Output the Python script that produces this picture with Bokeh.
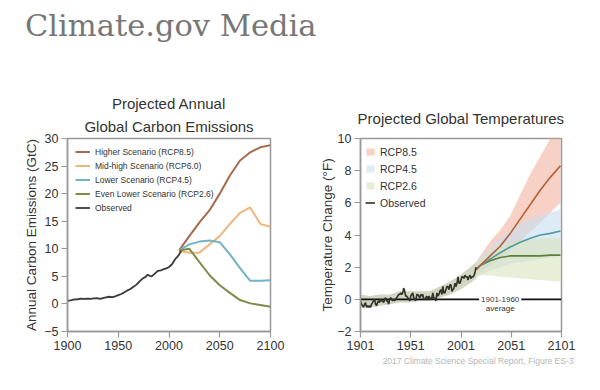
from bokeh.plotting import figure
from bokeh.models import (Legend, LegendItem, Label, Title, Div, CustomJSTickFormatter,
                          FixedTicker, Range1d)
from bokeh.layouts import column, row
from bokeh.embed import file_html
from bokeh.resources import INLINE

# ---------------- data: left chart (emissions, GtC) ----------------
obs_em_years = [1900, 1903, 1906, 1910, 1913, 1916, 1920, 1923, 1926, 1929, 1932, 1935, 1938,
                1941, 1944, 1946, 1950, 1953, 1956, 1959, 1962, 1965, 1968, 1971, 1974, 1977,
                1979, 1981, 1983, 1986, 1989, 1992, 1995, 1998, 2000, 2003, 2006, 2009, 2012]
obs_em_vals = [0.55, 0.65, 0.8, 0.85, 0.95, 0.9, 0.95, 0.9, 1.0, 1.05, 0.9, 1.05, 1.2,
               1.3, 1.25, 1.3, 1.6, 1.8, 2.1, 2.45, 2.7, 3.1, 3.5, 4.1, 4.6, 4.9,
               5.3, 5.1, 5.0, 5.5, 6.0, 6.1, 6.3, 6.5, 6.7, 7.2, 8.1, 8.7, 9.6]
scen_years = [2010, 2020, 2030, 2040, 2050, 2060, 2070, 2080, 2090, 2100]
em_rcp85 = [9.7, 12.3, 14.8, 17.0, 20.0, 23.3, 26.0, 27.5, 28.4, 28.8]
em_rcp60 = [9.6, 9.3, 9.3, 10.8, 12.3, 14.5, 16.5, 17.5, 14.5, 14.0]
em_rcp45 = [9.7, 10.8, 11.3, 11.5, 11.2, 9.0, 6.5, 4.2, 4.2, 4.3]
em_rcp26 = [9.7, 10.0, 7.6, 5.2, 3.4, 2.0, 0.7, 0.1, -0.2, -0.5]
em_labels = ["Higher Scenario (RCP8.5)", "Mid-high Scenario (RCP6.0)",
             "Lower Scenario (RCP4.5)", "Even Lower Scenario (RCP2.6)", "Observed"]

# ---------------- data: right chart (temperature change, F) ----------------
obs_t_years = list(range(1901, 2017))
obs_t_vals = [-0.1, -0.3, -0.4, -0.5, -0.3, -0.2, -0.5, -0.4, -0.5, -0.4,
              -0.5, -0.3, -0.2, -0.1, 0.0, -0.3, -0.4, -0.2, -0.1, -0.2,
              0.0, -0.1, -0.1, -0.2, 0.0, 0.1, -0.1, -0.1, -0.3, 0.0,
              0.1, 0.0, -0.1, 0.0, -0.1, 0.0, 0.1, 0.2, 0.3, 0.3,
              0.4, 0.3, 0.4, 0.7, 0.5, 0.2, 0.2, 0.1, 0.0, -0.1,
              0.2, 0.3, 0.4, 0.1, 0.0, -0.1, 0.3, 0.3, 0.2, 0.1,
              0.3, 0.2, 0.3, 0.0, 0.0, 0.1, 0.2, 0.0, 0.2, 0.1,
              0.0, 0.1, 0.4, 0.0, 0.1, -0.1, 0.4, 0.2, 0.3, 0.5,
              0.6, 0.3, 0.8, 0.4, 0.4, 0.6, 0.8, 0.8, 0.6, 0.9,
              0.9, 0.5, 0.6, 0.7, 1.0, 0.8, 1.0, 1.4, 1.0, 1.0,
              1.2, 1.4, 1.4, 1.3, 1.5, 1.4, 1.4, 1.2, 1.4, 1.5,
              1.3, 1.4, 1.4, 1.5, 1.7, 2.0]
hist_years = [1901, 1910, 1920, 1930, 1940, 1950, 1960, 1970, 1980, 1990, 2000, 2010, 2016]
hist_hi = [0.3, 0.2, 0.3, 0.3, 0.5, 0.5, 0.5, 0.5, 0.8, 1.1, 1.5, 2.0, 2.3]
hist_lo = [-0.4, -0.5, -0.4, -0.3, -0.2, -0.2, -0.1, -0.1, 0.1, 0.3, 0.6, 1.0, 1.3]
proj_years = [2016, 2020, 2030, 2040, 2050, 2060, 2070, 2080, 2090, 2100]
t_rcp85 = [1.85, 2.1, 2.7, 3.3, 4.1, 5.0, 5.9, 6.8, 7.6, 8.3]
t_rcp85_hi = [2.3, 2.7, 3.6, 4.3, 5.2, 6.5, 7.8, 8.9, 10.0, 10.8]
t_rcp85_lo = [1.4, 1.7, 2.1, 2.5, 3.0, 3.6, 4.2, 4.8, 5.4, 6.0]
t_rcp45 = [1.85, 2.1, 2.5, 2.9, 3.25, 3.55, 3.8, 4.0, 4.1, 4.25]
t_rcp45_hi = [2.3, 2.6, 3.2, 3.8, 4.3, 4.7, 5.0, 5.2, 5.4, 5.6]
t_rcp45_lo = [1.4, 1.5, 1.8, 2.0, 2.2, 2.3, 2.4, 2.5, 2.6, 2.7]
t_rcp26 = [1.85, 2.1, 2.4, 2.6, 2.7, 2.7, 2.7, 2.7, 2.75, 2.75]
t_rcp26_hi = [2.3, 2.5, 3.0, 3.4, 3.6, 3.7, 3.7, 3.8, 3.8, 3.8]
t_rcp26_lo = [1.3, 1.5, 1.5, 1.4, 1.35, 1.3, 1.25, 1.2, 1.15, 1.1]
t_labels = ["RCP8.5", "RCP4.5", "RCP2.6", "Observed"]
baseline_x0 = [1901, 2061]
baseline_x1 = [2019, 2101]

FONT = "Liberation Sans"
TXT = "#333333"
GRID = "#999999"

minus_fmt = CustomJSTickFormatter(code="return tick < 0 ? '\\u2212' + Math.abs(tick) : '' + tick;")


def style(p, xticks, yticks, ylabel, label_standoff):
    p.xaxis.ticker = FixedTicker(ticks=xticks)
    p.yaxis.ticker = FixedTicker(ticks=yticks)
    p.yaxis.formatter = minus_fmt
    p.xgrid.visible = False
    p.ygrid.visible = False
    for ax in (p.xaxis[0], p.yaxis[0]):
        ax.axis_line_color = GRID
        ax.axis_line_width = 1.5
        ax.major_tick_line_color = GRID
        ax.major_tick_line_width = 1.2
        ax.major_tick_in = 0
        ax.major_tick_out = 6
        ax.minor_tick_line_color = None
        ax.major_label_text_font = FONT
        ax.major_label_text_font_size = "12.5px"
        ax.major_label_text_color = TXT
        ax.major_label_standoff = 3
    p.yaxis.axis_label = ylabel
    p.yaxis.axis_label_text_font = FONT
    p.yaxis.axis_label_text_font_size = "13.5px"
    p.yaxis.axis_label_text_font_style = "normal"
    p.yaxis.axis_label_text_color = TXT
    p.yaxis.axis_label_standoff = label_standoff
    p.outline_line_color = GRID
    p.outline_line_width = 1.5
    p.background_fill_color = "white"
    p.border_fill_color = "white"


# ---------------- left figure ----------------
p1 = figure(width=300, height=314, x_range=Range1d(1900, 2100), y_range=Range1d(-5, 30),
            output_backend="svg", toolbar_location=None, title=None,
            min_border_left=67, min_border_right=30, min_border_top=70, min_border_bottom=51)
style(p1, [1900, 1950, 2000, 2050, 2100], [-5, 0, 5, 10, 15, 20, 25, 30],
      "Annual Carbon Emissions (GtC)", 2)

r85 = p1.line(scen_years, em_rcp85, line_color="#a86a4c", line_width=2)
r60 = p1.line(scen_years, em_rcp60, line_color="#f0b67c", line_width=2)
r45 = p1.line(scen_years, em_rcp45, line_color="#72b3c4", line_width=2)
r26 = p1.line(scen_years, em_rcp26, line_color="#7e8c4a", line_width=2)
robs = p1.line(obs_em_years, obs_em_vals, line_color="#3a3a3a", line_width=1.8)

leg1 = Legend(items=[LegendItem(label=em_labels[0], renderers=[r85]),
                     LegendItem(label=em_labels[1], renderers=[r60]),
                     LegendItem(label=em_labels[2], renderers=[r45]),
                     LegendItem(label=em_labels[3], renderers=[r26]),
                     LegendItem(label=em_labels[4], renderers=[robs])],
              location="top_left", border_line_color=None, background_fill_alpha=0,
              label_text_font=FONT, label_text_font_size="8.5px", label_text_color=TXT,
              glyph_width=15, glyph_height=11, label_height=11, spacing=3,
              padding=6, margin=8, label_standoff=5)
p1.add_layout(leg1)

p1.add_layout(Title(text="Global Carbon Emissions", align="center", text_font=FONT,
                    text_font_size="15px", text_font_style="normal", text_color=TXT,
                    text_line_height=0.8, standoff=8), "above")
p1.add_layout(Title(text="Projected Annual", align="center", text_font=FONT,
                    text_font_size="15px", text_font_style="normal", text_color=TXT,
                    text_line_height=0.8, standoff=0), "above")

# ---------------- right figure ----------------
p2 = figure(width=300, height=314, x_range=Range1d(1901, 2101), y_range=Range1d(-2, 10),
            output_backend="svg", toolbar_location=None, title=None,
            min_border_left=60, min_border_right=39, min_border_top=70, min_border_bottom=49)
style(p2, [1901, 1951, 2001, 2051, 2101], [-2, 0, 2, 4, 6, 8, 10],
      "Temperature Change (\u00b0F)", -1)

p2.varea(x=hist_years, y1=hist_lo, y2=hist_hi, fill_color="#c3c7a9", fill_alpha=0.75)
b85 = p2.varea(x=proj_years, y1=t_rcp85_lo, y2=t_rcp85_hi, fill_color="#f2b29e", fill_alpha=0.6)
b45 = p2.varea(x=proj_years, y1=t_rcp45_lo, y2=t_rcp45_hi, fill_color="#c4def0", fill_alpha=0.6)
b26 = p2.varea(x=proj_years, y1=t_rcp26_lo, y2=t_rcp26_hi, fill_color="#d8e3bc", fill_alpha=0.6)
p2.segment(x0=baseline_x0, y0=[0, 0], x1=baseline_x1, y1=[0, 0], line_color="#111111", line_width=1.6)
p2.line(proj_years, t_rcp26, line_color="#5e7e36", line_width=1.6)
p2.line(proj_years, t_rcp45, line_color="#4f9c9e", line_width=1.6)
p2.line(proj_years, t_rcp85, line_color="#b2603c", line_width=1.6)
tobs = p2.line(obs_t_years, obs_t_vals, line_color="#2f332c", line_width=1.6)

leg2 = Legend(items=[LegendItem(label=t_labels[0], renderers=[b85]),
                     LegendItem(label=t_labels[1], renderers=[b45]),
                     LegendItem(label=t_labels[2], renderers=[b26]),
                     LegendItem(label=t_labels[3], renderers=[tobs])],
              location="top_left", border_line_color=None, background_fill_alpha=0,
              label_text_font=FONT, label_text_font_size="10.5px", label_text_color=TXT,
              glyph_width=10, glyph_height=9, label_height=17, spacing=0,
              padding=6, margin=5, label_standoff=5)
p2.add_layout(leg2)

p2.add_layout(Title(text="Projected Global Temperatures", align="center", text_font=FONT,
                    text_font_size="15px", text_font_style="normal", text_color=TXT,
                    standoff=24), "above")
p2.add_layout(Title(text="2017 Climate Science Special Report, Figure ES-3", align="right",
                    offset=-12, text_font=FONT, text_font_size="8.5px",
                    text_font_style="normal", text_color="#b5b5b5", standoff=3), "below")

p2.add_layout(Label(x=2040, y=0, text="1901-1960", text_align="center", text_baseline="middle",
                    text_font=FONT, text_font_size="8px", text_color=TXT))
p2.add_layout(Label(x=2040, y=-0.55, text="average", text_align="center", text_baseline="middle",
                    text_font=FONT, text_font_size="8px", text_color=TXT))

header = Div(text="Climate.gov Media", width=600, height=68, margin=0,
             styles={"font-family": "DejaVu Serif", "font-size": "30.5px", "color": "#777777",
                     "padding-left": "25px", "padding-top": "11px", "line-height": "1"})

layout = column(header, row(p1, p2, spacing=0), spacing=0)

open("out.html", "w").write(file_html(layout, INLINE))
